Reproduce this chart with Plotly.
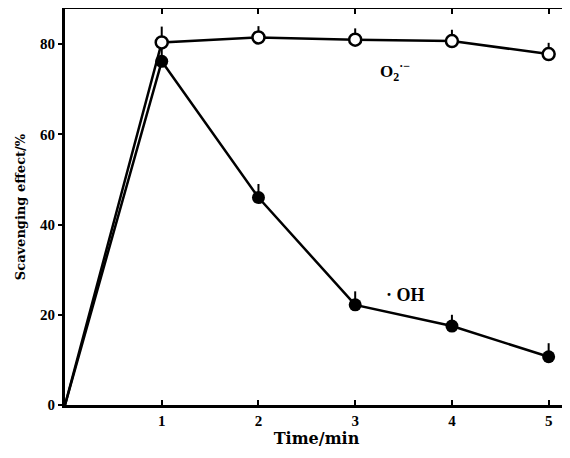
import plotly.graph_objects as go

time = [0, 1, 2, 3, 4, 5]
o2_values = [0, 80.4, 81.5, 81.0, 80.7, 77.8]
oh_values = [0, 76.2, 46.0, 22.2, 17.5, 10.7]
o2_err = [0, 3.5, 2.5, 2.5, 2.5, 2.5]
oh_err = [0, 3.0, 3.0, 3.0, 2.5, 3.0]
x_ticks = [1, 2, 3, 4, 5]
y_ticks = [0, 20, 40, 60, 80]

font = "Liberation Serif"

fig = go.Figure()
fig.add_trace(go.Scatter(
    x=time, y=oh_values, mode="lines",
    line=dict(color="black", width=2.5), showlegend=False))
fig.add_trace(go.Scatter(
    x=time[1:], y=oh_values[1:], mode="markers",
    marker=dict(color="black", size=13, symbol="circle"),
    error_y=dict(type="data", symmetric=False, array=oh_err[1:], arrayminus=[0]*5,
                 color="black", thickness=2, width=0),
    showlegend=False))
fig.add_trace(go.Scatter(
    x=time, y=o2_values, mode="lines",
    line=dict(color="black", width=2.5), showlegend=False))
fig.add_trace(go.Scatter(
    x=time[1:], y=o2_values[1:], mode="markers",
    marker=dict(color="white", size=12, symbol="circle",
                line=dict(color="black", width=2.5)),
    error_y=dict(type="data", symmetric=False, array=o2_err[1:], arrayminus=[0]*5,
                 color="black", thickness=2, width=0),
    showlegend=False))

fig.add_annotation(x=3.24, y=74, text="<b>O<sub>2</sub><sup>·−</sup></b>", showarrow=False,
                   font=dict(family=font, size=17, color="black"), xanchor="left")
fig.add_annotation(x=3.3, y=24.4, text="<b>· OH</b>", showarrow=False,
                   font=dict(family=font, size=18, color="black"), xanchor="left")

fig.update_layout(
    width=562, height=450,
    margin=dict(l=57, r=2, t=1, b=53),
    paper_bgcolor="white", plot_bgcolor="white",
    font=dict(family=font, color="black", size=15),
    xaxis=dict(range=[0, 5.2], tickvals=x_ticks, ticktext=[f"<b>{v}</b>" for v in x_ticks],
               ticks="inside", ticklen=5, tickwidth=2, tickcolor="black",
               showline=True, linecolor="black", linewidth=3, mirror="ticks",
               showgrid=False, zeroline=False, automargin=False,
               tickfont=dict(size=15),
               title=dict(text="<b>Time/min</b>", font=dict(family="DejaVu Serif", size=16), standoff=5)),
    yaxis=dict(range=[0, 87.8], tickvals=y_ticks, ticktext=[f"<b>{v}</b>" for v in y_ticks],
               ticks="outside", ticklen=4, tickwidth=2, tickcolor="black",
               showline=True, linecolor="black", linewidth=3, mirror="ticks",
               showgrid=False, zeroline=False, automargin=False,
               tickfont=dict(size=15),
               title=dict(text="<b>Scavenging effect/%</b>", font=dict(family="DejaVu Serif", size=13), standoff=12)),
)

fig.write_html("out.html")
